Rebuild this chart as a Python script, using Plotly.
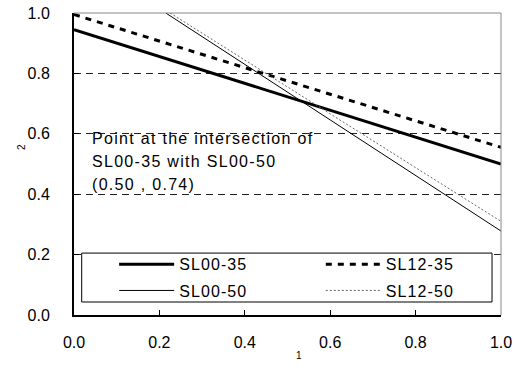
import plotly.graph_objects as go

# Series data
x_35 = [0.0, 1.0]
sl00_35 = [0.945, 0.500]
sl12_35 = [0.995, 0.555]
x_00_50 = [0.215, 1.0]
sl00_50 = [1.0, 0.278]
x_12_50 = [0.225, 1.0]
sl12_50 = [1.0, 0.310]

tick_vals = [0.0, 0.2, 0.4, 0.6, 0.8, 1.0]
tick_text = ["0.0", "0.2", "0.4", "0.6", "0.8", "1.0"]

note_lines = ["Point at the intersection of", "SL00-35 with SL00-50", "(0.50 , 0.74)"]

FONT = "Liberation Sans, Arial, sans-serif"


def spaced(t, ls=1.3):
    return f'<span style="letter-spacing:{ls}px">{t}</span>'


fig = go.Figure()
series = [
    ("SL00-35", x_35, sl00_35, dict(color="black", width=3), "legend"),
    ("SL12-35", x_35, sl12_35, dict(color="black", width=3, dash="6px,6px"), "legend2"),
    ("SL00-50", x_00_50, sl00_50, dict(color="black", width=1), "legend3"),
    ("SL12-50", x_12_50, sl12_50, dict(color="#666666", width=1, dash="2px,2px"), "legend4"),
]
for name, xs, ys, line, lg in series:
    fig.add_trace(go.Scatter(x=xs, y=ys, mode="lines", name=spaced(name, 1.1),
                             line=line, legend=lg))

# legend frame
fig.add_shape(type="rect", xref="x", yref="y", x0=0.018, x1=0.979, y0=0.043, y1=0.205,
              fillcolor="white", line=dict(color="black", width=1), layer="above")
# top and right border
fig.add_shape(type="line", xref="paper", yref="paper", x0=0, x1=1, y0=1, y1=1,
              line=dict(color="#888888", width=1))
fig.add_shape(type="line", xref="paper", yref="paper", x0=1, x1=1, y0=0, y1=1,
              line=dict(color="#888888", width=1))

for txt, yy in zip(note_lines, [0.584, 0.508, 0.432]):
    fig.add_annotation(x=0.038, y=yy, xref="x", yref="y", text=spaced(txt),
                       showarrow=False, xanchor="left", yanchor="middle",
                       font=dict(family=FONT, size=16, color="black"))

fig.add_annotation(x=-0.142, y=0.556, xref="paper", yref="paper", text="2", textangle=-90,
                   showarrow=False, font=dict(family=FONT, size=10, color="black"))
fig.add_annotation(x=0.527, y=-0.16, xref="paper", yref="paper", text="1",
                   showarrow=False, font=dict(family=FONT, size=10, color="black"))

leg_common = dict(orientation="h", bgcolor="rgba(0,0,0,0)", borderwidth=0,
                  font=dict(family=FONT, size=16, color="black"),
                  xanchor="left", yanchor="middle", itemwidth=55)
fig.update_layout(
    width=514, height=374,
    margin=dict(l=74, r=13, t=13, b=59, autoexpand=False),
    paper_bgcolor="white", plot_bgcolor="white",
    showlegend=True,
    legend=dict(x=0.094, y=0.168, **leg_common),
    legend2=dict(x=0.578, y=0.168, **leg_common),
    legend3=dict(x=0.094, y=0.081, **leg_common),
    legend4=dict(x=0.578, y=0.081, **leg_common),
    font=dict(family=FONT, size=16, color="black"),
)
fig.update_xaxes(range=[0, 1], tickvals=tick_vals, ticktext=tick_text,
                 showgrid=False, zeroline=False, showline=True, linecolor="black", linewidth=2,
                 ticks="inside", ticklen=5, tickcolor="black", tickwidth=1,
                 ticklabelstandoff=12, tickfont=dict(family=FONT, size=16))
fig.update_yaxes(range=[0, 1], tickvals=tick_vals, ticktext=tick_text,
                 showgrid=True, gridcolor="#222222", gridwidth=1, griddash="7px,5px",
                 zeroline=False, showline=True, linecolor="black", linewidth=2,
                 ticks="inside", ticklen=5, tickcolor="black", tickwidth=1,
                 ticklabelstandoff=19, tickfont=dict(family=FONT, size=16))

fig.write_html("out.html")
